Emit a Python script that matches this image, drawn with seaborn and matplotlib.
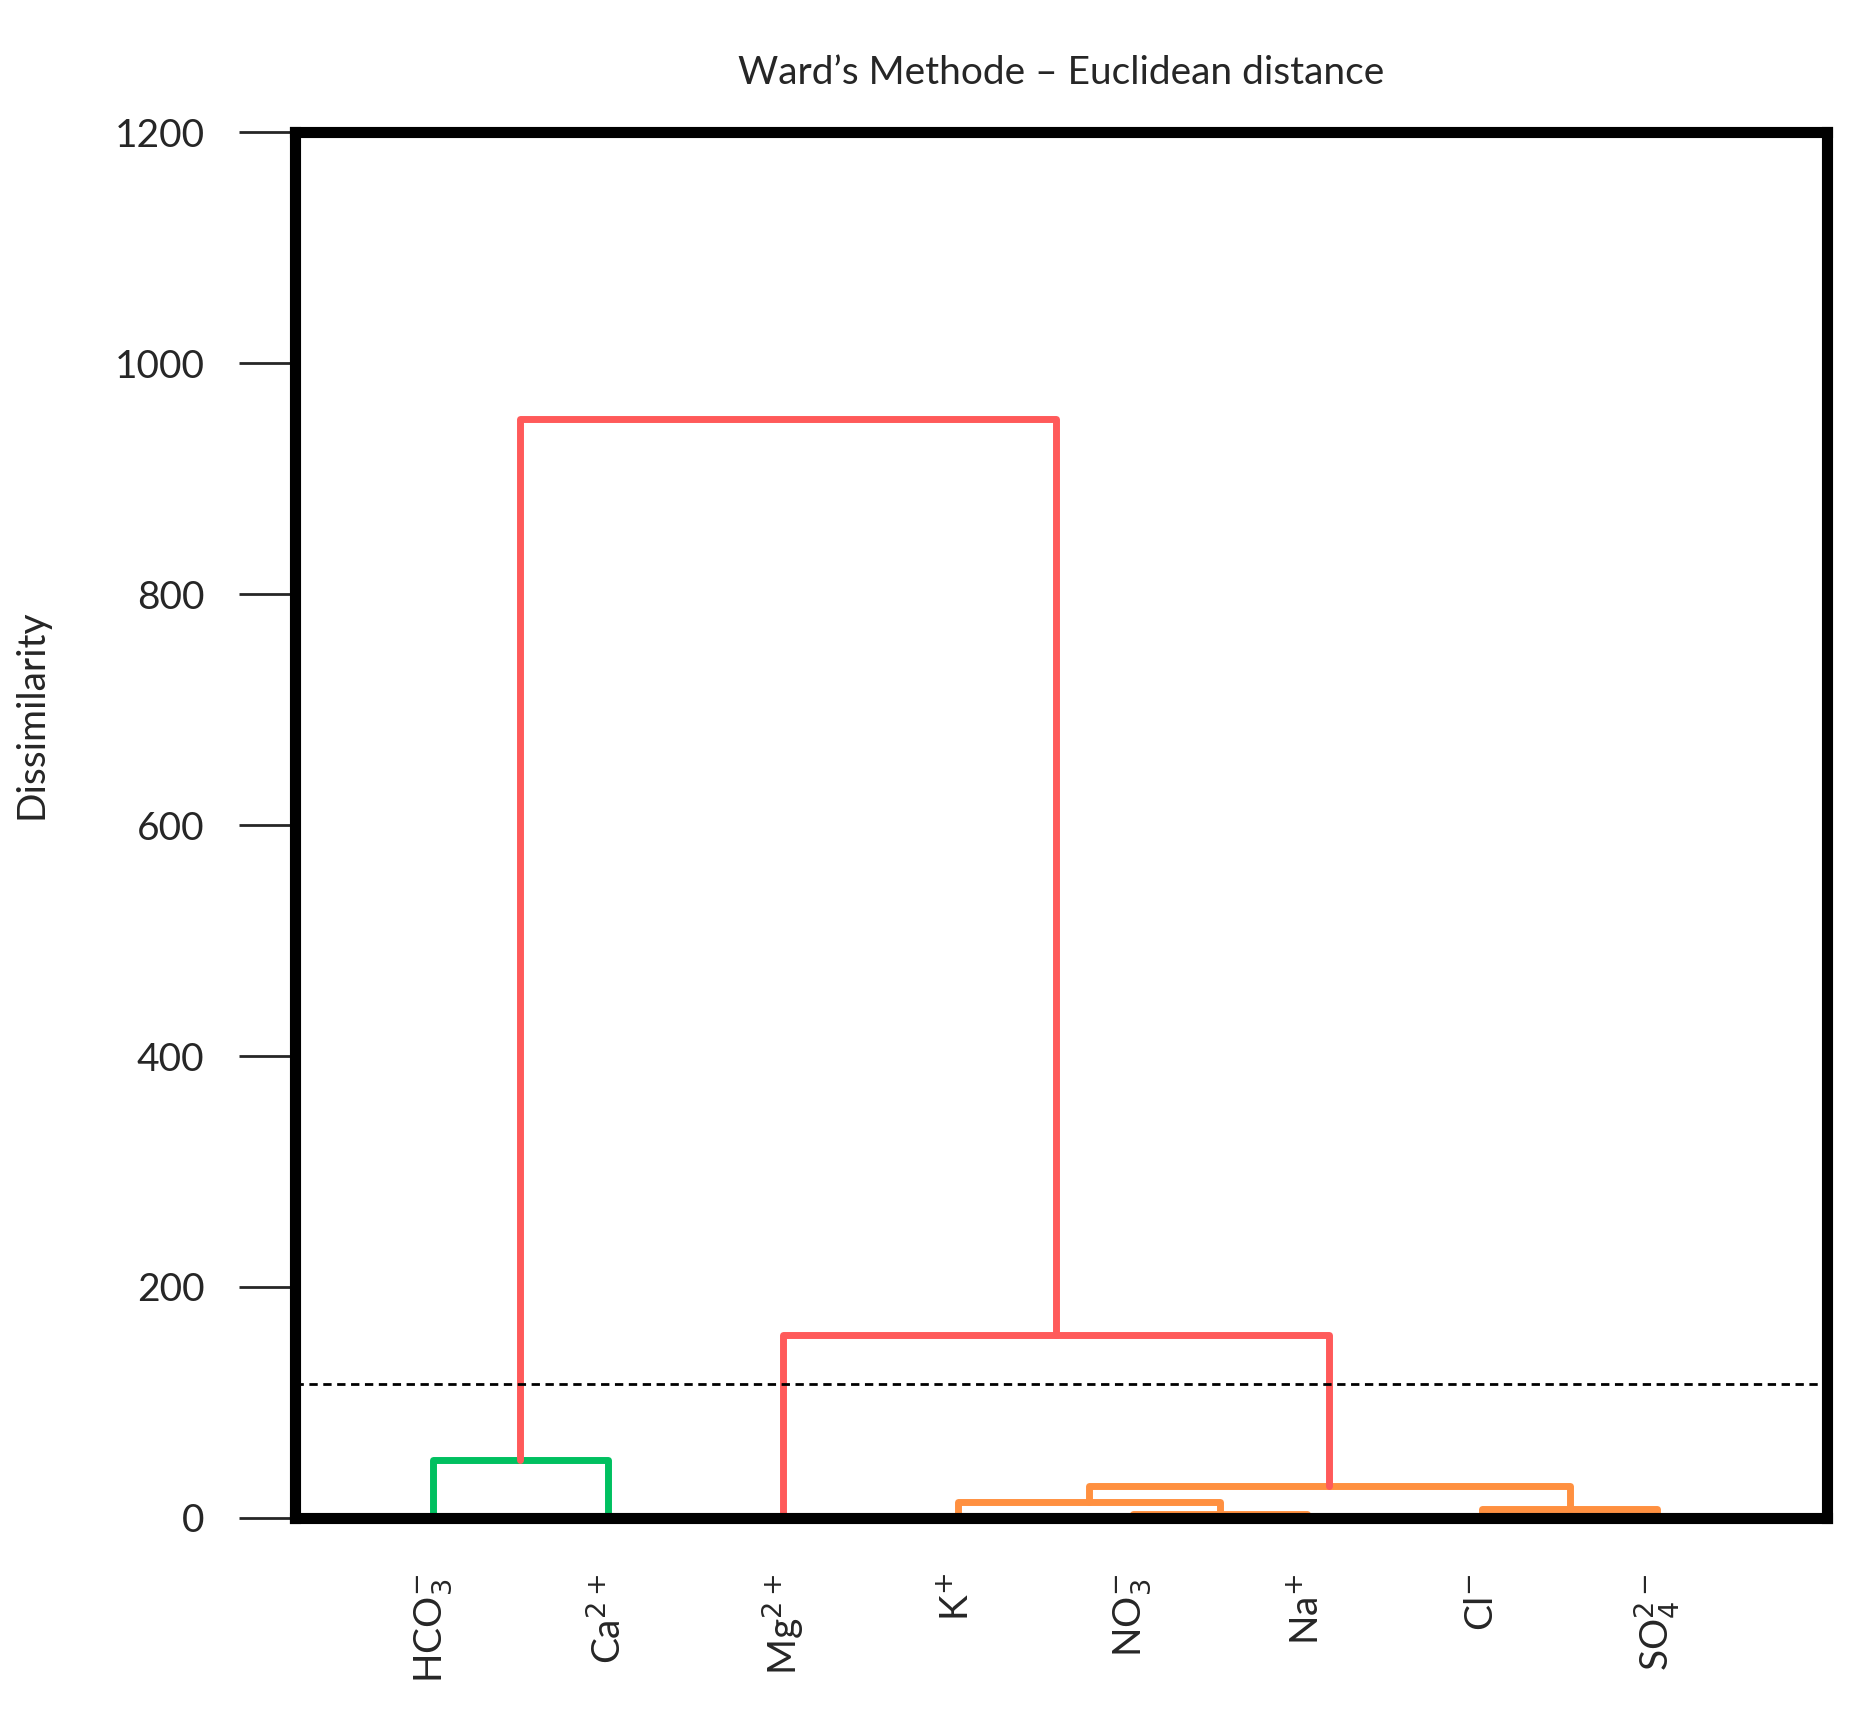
import matplotlib
matplotlib.use("Agg")
import matplotlib.pyplot as plt
import seaborn as sns

sns.set_theme(style="white")
plt.rcParams['font.family'] = ['Lato', 'DejaVu Sans']

# leaves, in dendrogram order
leaves = [r'HCO$_3^{-}$', r'Ca$^{2+}$', r'Mg$^{2+}$', r'K$^{+}$',
          r'NO$_3^{-}$', r'Na$^{+}$', r'Cl$^{-}$', r'SO$_4^{2-}$']
# merges: (cluster a, cluster b, height, colour); new clusters numbered from 8
merge_a = [4, 6, 3, 0, 10, 2, 11]
merge_b = [5, 7, 8, 1, 9, 12, 13]
merge_h = [3, 8, 14, 50, 28, 158, 952]
merge_c = ['#ff9040', '#ff9040', '#ff9040', '#00c060', '#ff9040', '#ff5a5a', '#ff5a5a']
cut_height = 116

fig = plt.figure(figsize=(18.66, 17.19), dpi=100)
ax = fig.add_axes([0.158, 0.117, 0.821, 0.806])

pos = {i: (float(i), 0.0) for i in range(len(leaves))}
for k, (a, b, h, c) in enumerate(zip(merge_a, merge_b, merge_h, merge_c)):
    xa, ya = pos[a]
    xb, yb = pos[b]
    sns.lineplot(x=[xa, xa, xb, xb], y=[ya, h, h, yb], sort=False, color=c,
                 lw=5, ax=ax, estimator=None)
    pos[len(leaves) + k] = ((xa + xb) / 2, h)

ax.axhline(cut_height, color='black', lw=2, ls=(0, (3, 2)))

ax.set_xlim(-0.79, 7.97)
ax.set_ylim(0, 1200)
ax.set_yticks(range(0, 1201, 200))
ax.set_xticks(range(len(leaves)))
ax.set_xticklabels(leaves, rotation=90, fontsize=28)
ax.tick_params(axis='x', length=0, pad=40)
ax.tick_params(axis='y', left=True, length=40, width=2, labelsize=28, pad=25)
for s in ax.spines.values():
    s.set_linewidth(8)
    s.set_color('black')
ax.set_ylabel('Dissimilarity', fontsize=28)
ax.yaxis.set_label_coords(-0.16, 0.58)
ax.set_title('Ward\u2019s Methode \u2013 Euclidean distance', fontsize=28, pad=35)

fig.savefig('out.png', dpi=100)
